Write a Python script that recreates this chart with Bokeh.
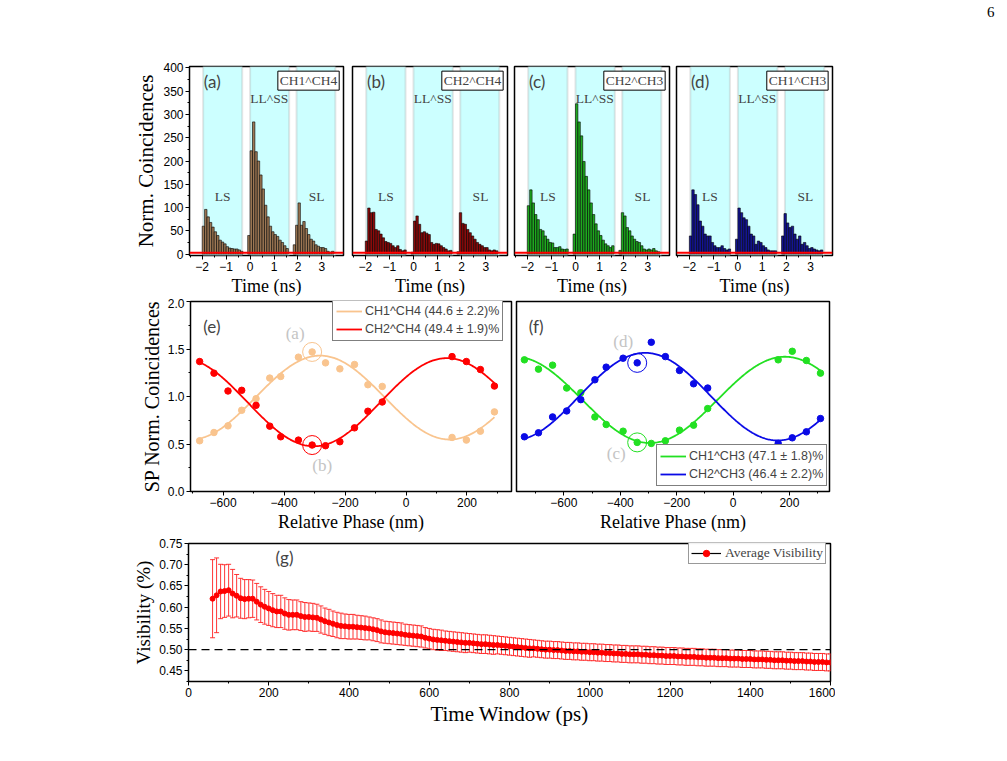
import numpy as np
from bokeh.plotting import figure
from bokeh.layouts import column, row
from bokeh.models import (Range1d, SingleIntervalTicker, BoxAnnotation, Span, Label,
                          Legend, LegendItem, Whisker, ColumnDataSource, TeeHead,
                          NumeralTickFormatter, Div)
from bokeh.core.properties import value
from bokeh.embed import file_html
from bokeh.resources import INLINE

SERIF = "Liberation Serif"
SANS = "Liberation Sans"
TAG = "Lato"

# ---------------- (a)-(d): coincidence histograms ----------------
ls_bins = [-1.95, -1.85, -1.75, -1.65, -1.55, -1.45, -1.35, -1.25, -1.15, -1.05,
           -0.95, -0.85, -0.75, -0.65, -0.55, -0.45, -0.35]
ll_bins = [-0.05, 0.05, 0.15, 0.25, 0.35, 0.45, 0.55, 0.65, 0.75, 0.85,
           0.95, 1.05, 1.15, 1.25, 1.35, 1.45, 1.55]
sl_bins = [1.85, 1.95, 2.05, 2.15, 2.25, 2.35, 2.45, 2.55, 2.65, 2.75,
           2.85, 2.95, 3.05, 3.15, 3.25, 3.35, 3.45]
window_left = [-1.96, 0.0, 1.94]
window_right = [-0.33, 1.63, 3.56]
window_names = ["LS", "LL^SS", "SL"]
window_name_x = [-1.15, 0.8, 2.78]
window_name_y = [124, 334, 124]
bin_width = 0.1
baseline_level = 3

a_ls = [60, 96, 80, 68, 58, 48, 40, 30, 26, 22, 16, 13, 12, 11, 11, 9, 6]
a_ll = [40, 222, 284, 220, 200, 170, 140, 105, 80, 60, 48, 42, 38, 30, 25, 18, 12]
a_sl = [20, 62, 110, 62, 70, 55, 42, 32, 28, 20, 17, 14, 14, 12, 6, 4, 6]

b_ls = [28, 99, 89, 90, 53, 50, 43, 35, 27, 25, 23, 18, 14, 18, 10, 7, 9]
b_ll = [4, 71, 82, 64, 46, 48, 45, 42, 25, 21, 23, 22, 18, 14, 11, 7, 8]
b_sl = [5, 89, 66, 64, 53, 46, 39, 32, 25, 21, 18, 14, 14, 9, 7, 9, 7]

c_ls = [104, 138, 110, 85, 74, 53, 50, 39, 32, 25, 24, 14, 14, 16, 11, 10, 11]
c_ll = [43, 323, 284, 254, 199, 167, 138, 110, 85, 65, 50, 40, 30, 22, 18, 14, 18]
c_sl = [8, 89, 82, 57, 50, 39, 32, 27, 25, 18, 11, 9, 11, 9, 12, 7, 5]

d_ls = [39, 138, 128, 106, 71, 60, 43, 39, 39, 25, 18, 14, 14, 18, 12, 9, 11]
d_ll = [32, 99, 89, 78, 74, 60, 43, 39, 21, 28, 25, 18, 14, 9, 7, 7, 7]
d_sl = [39, 87, 67, 57, 60, 43, 32, 39, 21, 25, 18, 12, 14, 11, 9, 7, 9]

panel_tags = ["(a)", "(b)", "(c)", "(d)"]
pair_names = ["CH1^CH4", "CH2^CH4", "CH2^CH3", "CH1^CH3"]
bar_colors = ["#9e7854", "#8c0a0a", "#1eaa1e", "#141494"]
hist_heights = [(a_ls, a_ll, a_sl), (b_ls, b_ll, b_sl), (c_ls, c_ll, c_sl), (d_ls, d_ll, d_sl)]
page_number = "6"

# ---------------- (e)-(f): phase scans ----------------
e_phase = [-677, -630, -584, -539, -492, -447, -411, -353, -308, -264, -217, -169, -125, -78,
           151, 198, 244, 290]
e_ch1ch4 = [0.534, 0.621, 0.691, 0.855, 0.977, 1.194, 1.211, 1.414, 1.469, 1.354, 1.291, 1.337,
            1.124, 1.106, 0.569, 0.541, 0.635, 0.838]
e_ch2ch4 = [1.368, 1.246, 1.058, 1.065, 0.907, 0.688, 0.576, 0.541, 0.489, 0.482, 0.524, 0.670,
            0.845, 0.942, 1.420, 1.368, 1.284, 1.110]
f_phase = [-740, -690, -640, -590, -540, -490, -450, -390, -340, -290, -240, -190, -140, -90,
           160, 210, 260, 310]
f_ch1ch3 = [1.386, 1.288, 1.330, 1.089, 1.040, 0.785, 0.705, 0.635, 0.517, 0.506, 0.534, 0.646,
            0.698, 0.873, 1.386, 1.476, 1.379, 1.246]
f_ch2ch3 = [0.576, 0.618, 0.785, 0.848, 0.967, 1.176, 1.309, 1.403, 1.354, 1.571, 1.420, 1.274,
            1.134, 1.089, 0.506, 0.565, 0.628, 0.768]
highlight_index = 8
e_labels = ["CH1^CH4 (44.6 \u00b1 2.2)%", "CH2^CH4 (49.4 \u00b1 1.9)%"]
f_labels = ["CH1^CH3 (47.1 \u00b1 1.8)%", "CH2^CH3 (46.4 \u00b1 2.2)%"]
e_colors = ["#f9c48e", "#ff0000"]
f_colors = ["#22e022", "#0a0ae6"]

# ---------------- (g): visibility vs time window ----------------
time_window = [
    60, 70, 80, 90, 100, 110, 120, 130, 140, 150, 160, 170, 180, 190, 200, 210, 220, 230, 240, 250,
    260, 270, 280, 290, 300, 310, 320, 330, 340, 350, 360, 370, 380, 390, 400, 410, 420, 430, 440, 450,
    460, 470, 480, 490, 500, 510, 520, 530, 540, 550, 560, 570, 580, 590, 600, 610, 620, 630, 640, 650,
    660, 670, 680, 690, 700, 710, 720, 730, 740, 750, 760, 770, 780, 790, 800, 810, 820, 830, 840, 850,
    860, 870, 880, 890, 900, 910, 920, 930, 940, 950, 960, 970, 980, 990, 1000, 1010, 1020, 1030, 1040, 1050,
    1060, 1070, 1080, 1090, 1100, 1110, 1120, 1130, 1140, 1150, 1160, 1170, 1180, 1190, 1200, 1210, 1220, 1230, 1240, 1250,
    1260, 1270, 1280, 1290, 1300, 1310, 1320, 1330, 1340, 1350, 1360, 1370, 1380, 1390, 1400, 1410, 1420, 1430, 1440, 1450,
    1460, 1470, 1480, 1490, 1500, 1510, 1520, 1530, 1540, 1550, 1560, 1570, 1580, 1590, 1600]
visibility = [
    0.620, 0.628, 0.637, 0.638, 0.640, 0.632, 0.627, 0.621, 0.619, 0.620, 0.620, 0.613, 0.606, 0.601, 0.597, 0.593, 0.590, 0.590, 0.585, 0.582,
    0.582, 0.582, 0.579, 0.577, 0.577, 0.576, 0.575, 0.571, 0.567, 0.564, 0.561, 0.558, 0.556, 0.555, 0.554, 0.554, 0.553, 0.552, 0.551, 0.550,
    0.548, 0.546, 0.543, 0.541, 0.540, 0.539, 0.538, 0.537, 0.535, 0.534, 0.533, 0.532, 0.531, 0.528, 0.526, 0.524, 0.523, 0.522, 0.521, 0.520,
    0.519, 0.518, 0.517, 0.516, 0.516, 0.515, 0.514, 0.513, 0.513, 0.512, 0.511, 0.511, 0.510, 0.509, 0.508, 0.507, 0.506, 0.505, 0.504, 0.503,
    0.503, 0.502, 0.501, 0.500, 0.500, 0.499, 0.499, 0.498, 0.497, 0.497, 0.496, 0.496, 0.495, 0.495, 0.494, 0.494, 0.493, 0.493, 0.492, 0.492,
    0.491, 0.491, 0.490, 0.490, 0.489, 0.489, 0.489, 0.488, 0.488, 0.487, 0.487, 0.486, 0.486, 0.485, 0.485, 0.485, 0.484, 0.484, 0.483, 0.483,
    0.483, 0.482, 0.482, 0.481, 0.481, 0.481, 0.480, 0.480, 0.480, 0.479, 0.479, 0.479, 0.478, 0.478, 0.478, 0.477, 0.477, 0.477, 0.476, 0.476,
    0.475, 0.475, 0.475, 0.474, 0.474, 0.473, 0.473, 0.473, 0.472, 0.472, 0.471, 0.471, 0.471, 0.470, 0.470]
visibility_err = [
    0.092, 0.088, 0.064, 0.062, 0.061, 0.057, 0.050, 0.047, 0.046, 0.045, 0.044, 0.043, 0.042, 0.041, 0.040, 0.039, 0.038, 0.038, 0.037, 0.036,
    0.035, 0.035, 0.034, 0.034, 0.033, 0.033, 0.032, 0.032, 0.031, 0.031, 0.030, 0.030, 0.030, 0.029, 0.029, 0.029, 0.028, 0.028, 0.028, 0.027,
    0.027, 0.027, 0.027, 0.026, 0.026, 0.026, 0.026, 0.026, 0.025, 0.025, 0.025, 0.025, 0.025, 0.024, 0.024, 0.024, 0.024, 0.024, 0.023, 0.023,
    0.023, 0.023, 0.023, 0.023, 0.022, 0.022, 0.022, 0.022, 0.022, 0.022, 0.022, 0.021, 0.021, 0.021, 0.021, 0.021, 0.021, 0.021, 0.021, 0.021,
    0.020, 0.020, 0.020, 0.020, 0.020, 0.020, 0.020, 0.020, 0.020, 0.020, 0.020, 0.020, 0.020, 0.020, 0.020, 0.020, 0.020, 0.020, 0.020, 0.020,
    0.020, 0.020, 0.020, 0.020, 0.020, 0.020, 0.020, 0.020, 0.020, 0.020, 0.020, 0.020, 0.020, 0.020, 0.020, 0.020, 0.020, 0.020, 0.020, 0.020,
    0.020, 0.020, 0.020, 0.020, 0.020, 0.020, 0.020, 0.020, 0.020, 0.020, 0.020, 0.020, 0.020, 0.020, 0.020, 0.020, 0.020, 0.020, 0.020, 0.020,
    0.020, 0.020, 0.020, 0.020, 0.020, 0.020, 0.020, 0.020, 0.020, 0.020, 0.020, 0.020, 0.020, 0.020, 0.020]
visibility_threshold = 0.5


def style(p, tick_font="12px"):
    p.xgrid.visible = False
    p.ygrid.visible = False
    p.outline_line_color = "black"
    p.outline_line_width = 1.5
    p.outline_line_alpha = 1.0
    p.background_fill_color = "white"
    p.border_fill_color = "white"
    for ax in p.axis:
        ax.axis_line_color = None
        ax.major_tick_out = 4
        ax.major_tick_in = 0
        ax.minor_tick_out = 2
        ax.minor_tick_in = 0
        ax.major_tick_line_color = "black"
        ax.minor_tick_line_color = "black"
        ax.major_label_text_font = SANS
        ax.major_label_text_font_size = tick_font
        ax.major_label_text_color = "black"
        ax.major_label_standoff = 2
        ax.axis_label_text_font = SERIF
        ax.axis_label_text_font_style = "normal"
        ax.axis_label_text_color = "black"
        ax.axis_label_standoff = 2


def make_fig(width, height, xr, yr, bl, br, bt, bb, show_y):
    p = figure(width=width, height=height, x_range=Range1d(*xr), y_range=Range1d(*yr),
               output_backend="svg", toolbar_location=None,
               min_border_left=bl, min_border_right=br, min_border_top=bt, min_border_bottom=bb,
               y_axis_location="left" if show_y else None)
    return p


# ---------------- Row 1 ----------------
row1_geom = [(347, 189, 4), (163, 5, 3), (162, 4, 3), (164, 4, 4)]
hist_figs = []
for i in range(4):
    w, bl, br = row1_geom[i]
    p = make_fig(w, 298, (-2.53, 3.9), (-3, 403), bl, br, 66, 42, i == 0)
    for lft, rgt in zip(window_left, window_right):
        p.add_layout(BoxAnnotation(left=lft, right=rgt, fill_color="#ccffff", fill_alpha=1.0,
                                   line_color="#a8a8a8", line_width=2, level="underlay"))
    for bins, h in zip([ls_bins, ll_bins, sl_bins], hist_heights[i]):
        p.vbar(x=bins, top=h, width=bin_width, fill_color=bar_colors[i], line_color="black",
               line_width=0.6)
    p.add_layout(Span(location=baseline_level, dimension="width", line_color="#ff0000", line_width=2))
    for nm, nx, ny in zip(window_names, window_name_x, window_name_y):
        p.add_layout(Label(x=nx, y=ny, text=nm, text_font=SERIF, text_font_size="13.5px",
                           text_align="center", text_baseline="middle"))
    p.add_layout(Label(x=-1.93, y=393, text=panel_tags[i], text_font=TAG, text_font_size="17px",
                       text_baseline="top", text_align="left"))
    p.add_layout(Label(x=3.72, y=393, text=pair_names[i], text_font=SERIF, text_font_size="13.5px",
                       text_baseline="top", text_align="right", background_fill_color="white",
                       border_line_color="black", border_line_width=1, padding=2))
    p.xaxis.ticker = SingleIntervalTicker(interval=1, num_minor_ticks=2)
    p.xaxis.axis_label = "Time (ns)"
    p.xaxis.axis_label_text_font_size = "18px"
    if i == 0:
        p.yaxis.ticker = SingleIntervalTicker(interval=50, num_minor_ticks=2)
        p.yaxis.axis_label = "Norm. Coincidences"
        p.yaxis.axis_label_text_font_size = "21px"
    style(p)
    hist_figs.append(p)

page_div = Div(text='<span style="font-family:\'Liberation Serif\'; font-size:15px; color:black;">'
                    + page_number + '</span>',
               width=20, height=20, margin=(2, 0, 0, 151))


def sine_fit(xs, ys):
    xs = np.asarray(xs, float)
    ys = np.asarray(ys, float)
    best = None
    for period in np.arange(600.0, 1600.0, 2.0):
        k = 2 * np.pi / period
        A = np.column_stack([np.ones_like(xs), np.cos(k * xs), np.sin(k * xs)])
        coef = np.linalg.lstsq(A, ys, rcond=None)[0]
        r = float(np.sum((A @ coef - ys) ** 2))
        if best is None or r < best[0]:
            best = (r, k, coef)
    _, k, coef = best
    xf = np.linspace(xs.min(), xs.max(), 300)
    yf = coef[0] + coef[1] * np.cos(k * xf) + coef[2] * np.sin(k * xf)
    return xf, yf


def phase_panel(width, xr, bl, br, show_y, xs, series, colors, labels, tag, tag_x,
                leg_loc, notes):
    p = make_fig(width, 236, xr, (0, 2), bl, br, 3, 42, show_y)
    items = []
    for ys, col, lab in zip(series, colors, labels):
        xf, yf = sine_fit(xs, ys)
        ln = p.line(xf, yf, line_color=col, line_width=1.8)
        p.scatter(xs, ys, size=6.5, fill_color=col, line_color=col, marker="circle")
        items.append(LegendItem(label=lab, renderers=[ln]))
    for ys, col, (txt, dx, dy) in zip(series, colors, notes):
        p.scatter([xs[highlight_index]], [ys[highlight_index]], marker="circle", size=19,
                  fill_alpha=0, line_color=col, line_width=1)
        p.text([xs[highlight_index]], [ys[highlight_index]], text=[txt], x_offset=dx, y_offset=dy,
               text_font=value(SERIF), text_font_size="17px", text_color="#c4c4c4",
               text_align="center", text_baseline="middle")
    leg = Legend(items=items, location=leg_loc, border_line_color="black", border_line_width=1,
                 background_fill_color="white", background_fill_alpha=1.0, padding=3, spacing=2,
                 margin=0, glyph_width=26, glyph_height=16, label_height=16, label_standoff=3,
                 label_text_font=SANS, label_text_font_size="12.5px")
    p.add_layout(leg)
    p.add_layout(Label(x=tag_x, y=1.85, text=tag, text_font=TAG, text_font_size="17px",
                       text_baseline="top", text_align="left"))
    p.xaxis.ticker = SingleIntervalTicker(interval=200, num_minor_ticks=2)
    p.xaxis.axis_label = "Relative Phase (nm)"
    p.xaxis.axis_label_text_font_size = "18px"
    if show_y:
        p.yaxis.ticker = SingleIntervalTicker(interval=0.5, num_minor_ticks=2)
        p.yaxis.formatter = NumeralTickFormatter(format="0.0")
        p.yaxis.axis_label = "SP Norm. Coincidences"
        p.yaxis.axis_label_text_font_size = "20px"
    style(p)
    return p


pe = phase_panel(513, (-707, 346), 190, 2, True, e_phase, [e_ch1ch4, e_ch2ch4], e_colors, e_labels,
                 "(e)", -665, (142, 150), [("(a)", -17, -18), ("(b)", 10, 20)])
pf = phase_panel(321, (-768, 342), 3, 5, False, f_phase, [f_ch1ch3, f_ch2ch3], f_colors, f_labels,
                 "(f)", -725, (140, 5), [("(c)", -21, 11), ("(d)", -14, -21)])

# ---------------- Row 3 ----------------
pg = make_fig(835, 194, (0, 1600), (0.425, 0.75), 188, 5, 9, 45, True)
lo = [v - e for v, e in zip(visibility, visibility_err)]
hi = [v + e for v, e in zip(visibility, visibility_err)]
src = ColumnDataSource(dict(t=time_window, v=visibility, lo=lo, hi=hi))
pg.add_layout(Whisker(source=src, base="t", upper="hi", lower="lo", line_color="#ff2020",
                      line_width=0.9, level="underlay",
                      upper_head=TeeHead(size=5, line_color="#ff2020", line_width=0.9),
                      lower_head=TeeHead(size=5, line_color="#ff2020", line_width=0.9)))
pg.add_layout(Span(location=visibility_threshold, dimension="width", line_color="black",
                   line_width=1.3, line_dash="8 5"))
vl = pg.line("t", "v", source=src, line_color="#ff0000", line_width=2)
vs = pg.scatter("t", "v", source=src, size=5, fill_color="#ff0000", line_color="#ff0000")
leg_line = pg.line(x=np.array([np.nan]), y=np.array([np.nan]), line_color="black", line_width=1.2)
leg_dot = pg.scatter(x=np.array([np.nan]), y=np.array([np.nan]), size=6, fill_color="#ff0000",
                     line_color="#ff0000")
pg.add_layout(Legend(items=[LegendItem(label="Average Visibility", renderers=[leg_line, leg_dot])],
                     location=(500, 117), border_line_color="#333333", border_line_width=1.5,
                     background_fill_color="white", padding=2, spacing=0, margin=0,
                     glyph_width=30, glyph_height=16, label_height=16, label_standoff=4,
                     label_text_font=SERIF, label_text_font_size="13.5px"))
pg.add_layout(Label(x=217, y=0.741, text="(g)", text_font=TAG, text_font_size="17px",
                    text_baseline="top", text_align="left"))
pg.xaxis.ticker = SingleIntervalTicker(interval=200, num_minor_ticks=2)
pg.yaxis.ticker = SingleIntervalTicker(interval=0.05, num_minor_ticks=2)
pg.yaxis.formatter = NumeralTickFormatter(format="0.00")
pg.xaxis.axis_label = "Time Window (ps)"
pg.yaxis.axis_label = "Visibility (%)"
pg.xaxis.axis_label_text_font_size = "21px"
pg.yaxis.axis_label_text_font_size = "19px"
style(pg)

layout = column(row(*hist_figs, page_div), row(pe, pf), row(pg))
open("out.html", "w").write(file_html(layout, INLINE))
